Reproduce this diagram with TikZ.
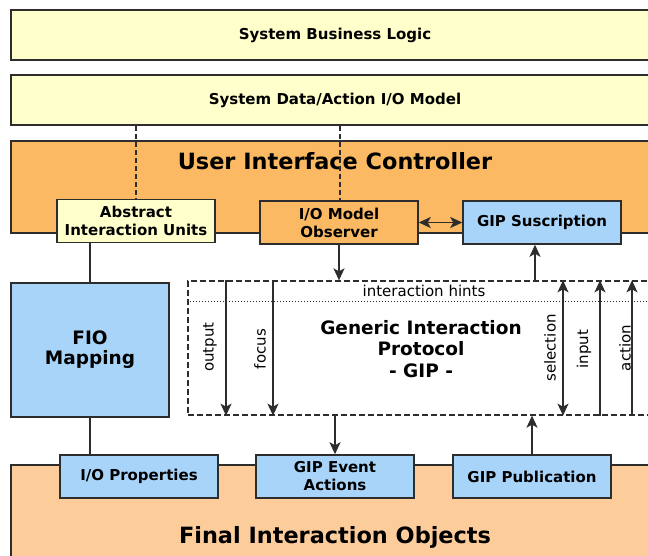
\documentclass[tikz,border=0pt]{standalone}
\usepackage{fontspec}
\setmainfont{DejaVu Sans}
\usepackage{tikz}
\usetikzlibrary{arrows.meta,      % pointes de fleches
                calc,             % calculs de coordonnees
                positioning}
\definecolor{pale}{RGB}{255,255,204}
\definecolor{uicorange}{RGB}{250,185,98}
\definecolor{peach}{RGB}{253,204,155}
\definecolor{sky}{RGB}{168,212,250}
\definecolor{trait}{RGB}{45,45,45}

\tikzset{
  bloc/.style={draw=trait,line width=1.5pt,minimum width=158pt,minimum height=43pt,inner sep=1pt,align=center,font=\fontsize{15}{18}\selectfont\bfseries},
  couche/.style={bloc,minimum width=648pt,minimum height=50pt},
  titre/.style={align=center,font=\fontsize{22.4}{26}\selectfont\bfseries},
  moyen/.style={align=center,font=\fontsize{18.5}{21.5}\selectfont\bfseries},
  petit/.style={font=\fontsize{15}{18}\selectfont},
  pointe/.tip={Stealth[length=12pt,width=11pt,inset=3pt]},
  fleche/.style={draw=trait,line width=1.6pt,-pointe},
  lien/.style={draw=trait,line width=1.6pt},
}

\begin{document}
\begin{tikzpicture}[x=1pt,y=-1pt]
\useasboundingbox (0,0) rectangle (648,555);
\fill[white] (0,0) rectangle (648,555);
\node[couche,fill=pale](sbl)at(335,35){System Business Logic};
\node[couche,fill=pale](sda)at(335,100){System Data/Action I/O Model};
\node[couche,fill=uicorange,minimum height=92pt](uic)at(335,187){};
\node[titre](uict)at(335,161){User Interface Controller};
\node[couche,fill=peach,minimum height=104pt](fin)at(335,517){};
\node[titre](fint)at(335,537){Final Interaction Objects};
\draw[lien,dash pattern=on 5pt off 3pt](sda.south -| 136,0)coordinate(d1)--(d1 |- 0,199);
\draw[lien,dash pattern=on 5pt off 3pt](sda.south -| 340,0)coordinate(d2)--(d2 |- 0,201);
\node[bloc,fill=pale](aiu)at(136,221){Abstract\\Interaction Units};
\node[bloc,fill=uicorange](iomo)at(339,222.5){I/O Model\\Observer};
\node[bloc,fill=sky](gips)at(542,222.5){GIP Suscription};
\draw[fleche,pointe-pointe](iomo.east)--(gips.west);
\node[bloc,fill=sky,minimum height=134pt,font=\fontsize{18.5}{20}\selectfont\bfseries](fiom)at(90,350){FIO\\Mapping};
\node[draw=trait,line width=1.3pt,dash pattern=on 6pt off 3pt,minimum width=482pt,minimum height=134pt](gip)at(429,348){};
\draw[trait,line width=1pt,dotted]($(gip.north west)+(0,21)$)--($(gip.north east)+(0,21)$);
\node[petit](hints)at(424,291){interaction hints};
\node[moyen](gipt)at(421,349){Generic Interaction\\Protocol\\- GIP -};
\node[bloc,fill=sky](iop)at(139,476.5){I/O Properties};
\node[bloc,fill=sky](gea)at(335,476.5){GIP Event\\Actions};
\node[bloc,fill=sky](gpub)at(532,476.5){GIP Publication};
\draw[lien](aiu.south -| fiom.north)--(fiom.north);
\draw[lien](fiom.south)--(fiom.south |- iop.north);
\draw[fleche](iomo.south)--(iomo.south |- gip.north);
\coordinate(sub)at($(gips.south)+(-7,0)$);
\draw[fleche](sub |- gip.north)--(sub);
\draw[fleche](gea.north |- gip.south)--(gea.north);
\draw[fleche](gpub.north)--(gpub.north |- gip.south);
\coordinate(out)at(226,0);
\coordinate(foc)at(273,0);
\coordinate(sel)at(563,0);
\coordinate(inp)at(600,0);
\coordinate(act)at(632,0);
\draw[fleche](out |- gip.north)--(out |- gip.south);
\draw[fleche](foc |- gip.north)--(foc |- gip.south);
\draw[fleche,pointe-pointe](sel |- gip.north)--(sel |- gip.south);
\draw[fleche](inp |- gip.south)--(inp |- gip.north);
\draw[fleche](act |- gip.south)--(act |- gip.north);
\node[petit,rotate=90](outl)at(210,347){output};
\node[petit,rotate=90](focl)at(260,349){focus};
\node[petit,rotate=90](sell)at(550,348){selection};
\node[petit,rotate=90](inpl)at(584,349){input};
\node[petit,rotate=90](actl)at(625,348){action};
\end{tikzpicture}
\end{document}
